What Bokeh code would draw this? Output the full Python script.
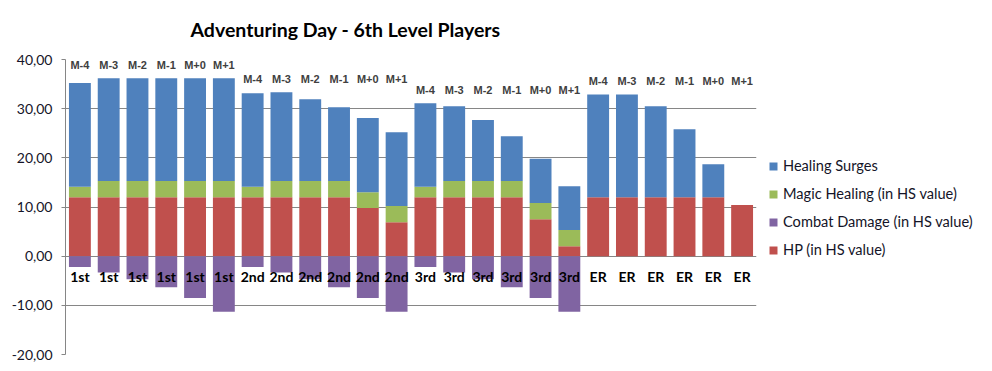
from bokeh.plotting import figure
from bokeh.models import (ColumnDataSource, Range1d, Legend, LegendItem,
                          CustomJSTickFormatter, FixedTicker)
from bokeh.core.properties import value
from bokeh.embed import file_html
from bokeh.resources import INLINE

groups = ["1st", "2nd", "3rd", "ER"]
monsters = ["M-4", "M-3", "M-2", "M-1", "M+0", "M+1"]

hp = [12.0, 12.0, 12.0, 12.0, 12.0, 12.0,
      12.0, 12.0, 12.0, 12.0, 9.8, 6.9,
      12.0, 12.0, 12.0, 12.0, 7.5, 2.0,
      12.0, 12.0, 12.0, 12.0, 12.0, 10.4]
magic = [2.1, 3.3, 3.3, 3.3, 3.3, 3.3,
         2.1, 3.3, 3.3, 3.3, 3.2, 3.3,
         2.1, 3.3, 3.3, 3.3, 3.3, 3.3,
         0.0, 0.0, 0.0, 0.0, 0.0, 0.0]
surges = [21.1, 20.9, 20.9, 20.9, 20.9, 20.9,
          19.05, 18.05, 16.6, 15.0, 15.1, 15.0,
          17.0, 15.2, 12.4, 9.1, 9.0, 8.9,
          20.9, 20.9, 18.5, 13.8, 6.7, 0.0]
damage = [-2.2, -3.3, -4.7, -6.3, -8.5, -11.3,
          -2.2, -3.3, -4.7, -6.3, -8.5, -11.3,
          -2.2, -3.3, -4.7, -6.3, -8.5, -11.3,
          0.0, 0.0, 0.0, 0.0, 0.0, 0.0]
y_ticks = [-20, -10, 0, 10, 20, 30, 40]

n = len(hp)
x = [i + 0.5 for i in range(n)]
hp_top = hp
mg_top = [h + m for h, m in zip(hp, magic)]
hs_top = [t + s for t, s in zip(mg_top, surges)]
grp_labels = [g for g in groups for _ in monsters]
mon_labels = [m for _ in groups for m in monsters]
grp_max = []
for gi in range(len(groups)):
    mx = max(hs_top[gi * 6:(gi + 1) * 6])
    grp_max += [mx + 2.7] * 6

src = ColumnDataSource(dict(x=x, hp=hp_top, mg=mg_top, hs=hs_top, dmg=damage,
                            zero=[0] * n, grp=grp_labels, mon=mon_labels,
                            ly=grp_max, by=[-4.05] * n))

p = figure(frame_width=691, frame_height=295, output_backend="svg",
           toolbar_location=None,
           x_range=Range1d(0, n), y_range=Range1d(-20, 40),
           min_border_left=65, min_border_right=10, min_border_top=58,
           min_border_bottom=12)
p.outline_line_color = None
p.xaxis.visible = False
p.xgrid.visible = False
p.ygrid.grid_line_color = "#868686"
p.ygrid.ticker = FixedTicker(ticks=y_ticks)
p.yaxis.ticker = FixedTicker(ticks=y_ticks)
p.yaxis.formatter = CustomJSTickFormatter(code="return tick.toFixed(2).replace('.', ',');")
p.yaxis.axis_line_color = "#868686"
p.yaxis.major_tick_line_color = "#868686"
p.yaxis.major_tick_out = 4
p.yaxis.major_tick_in = 0
p.yaxis.minor_tick_line_color = None
p.yaxis.major_label_text_font = "Lato"
p.yaxis.major_label_text_font_size = "14px"
p.yaxis.major_label_text_color = "#141428"
p.yaxis.major_label_standoff = 9

w = 0.76
r_hp = p.vbar(x="x", bottom="zero", top="hp", width=w, source=src,
              fill_color="#C0504D", line_color=None)
r_mg = p.vbar(x="x", bottom="hp", top="mg", width=w, source=src,
              fill_color="#9BBB59", line_color=None)
r_hs = p.vbar(x="x", bottom="mg", top="hs", width=w, source=src,
              fill_color="#4F81BD", line_color=None)
r_dm = p.vbar(x="x", bottom="dmg", top="zero", width=w, source=src,
              fill_color="#8064A2", line_color=None)

p.text(x="x", y="ly", text="mon", source=src, text_align="center",
       text_baseline="middle", text_font=value("Liberation Sans"),
       text_font_size="11px", text_font_style="bold", text_color="#404040")
p.text(x="x", y="by", text="grp", source=src, text_align="center",
       text_baseline="middle", text_font=value("Lato"),
       text_font_size="14px", text_font_style="bold", text_color="#000000")

legend = Legend(items=[
    LegendItem(label="Healing Surges", renderers=[r_hs]),
    LegendItem(label="Magic Healing (in HS value)", renderers=[r_mg]),
    LegendItem(label="Combat Damage (in HS value)", renderers=[r_dm]),
    LegendItem(label="HP (in HS value)", renderers=[r_hp]),
], location=(12, 96))
legend.border_line_color = None
legend.background_fill_alpha = 0
legend.padding = 0
legend.margin = 0
legend.glyph_width = 10
legend.glyph_height = 10
legend.label_height = 17
legend.spacing = 11
legend.label_standoff = 5
legend.label_text_font = "Lato"
legend.label_text_font_size = "14.6px"
legend.label_text_color = "#141428"
p.add_layout(legend, "right")

p.title.text = "Adventuring Day - 6th Level Players"
p.title.align = "left"
p.title.offset = 125
p.title.text_font = "Lato"
p.title.text_font_size = "19.5px"
p.title.text_font_style = "bold"
p.title.text_color = "#000000"
p.title.vertical_align = "top"
p.title.standoff = 34

open("out.html", "w").write(file_html(p, INLINE))
